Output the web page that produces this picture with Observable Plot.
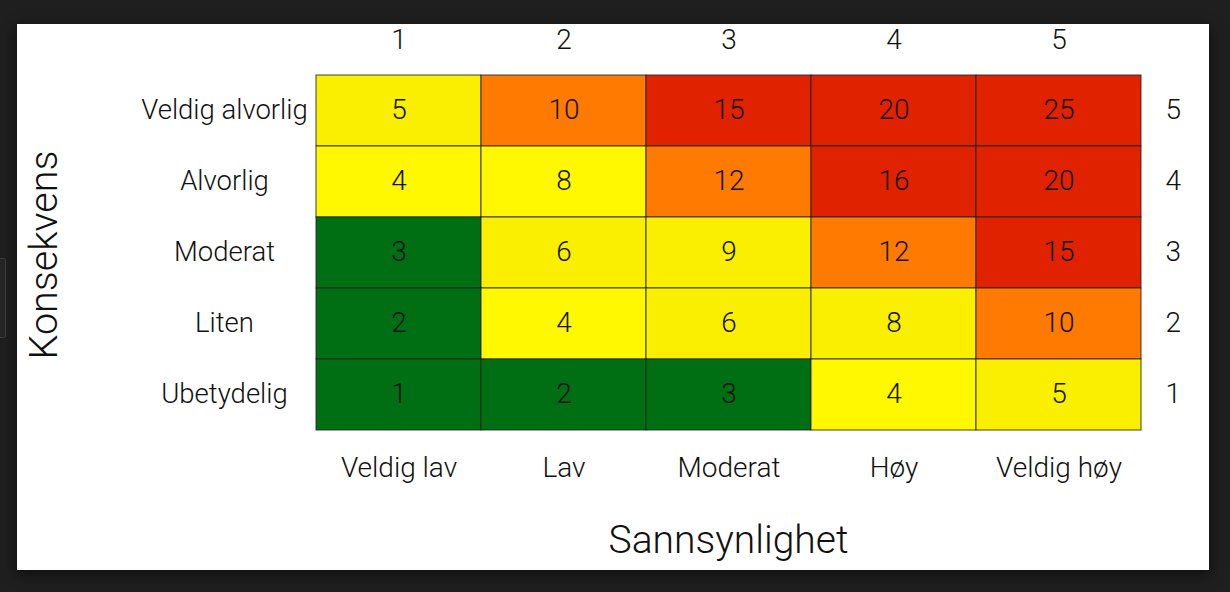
<!DOCTYPE html>
<html>
<head>
<meta charset="utf-8">
<script src="https://cdn.jsdelivr.net/npm/d3@7"></script>
<script src="https://cdn.jsdelivr.net/npm/@observablehq/plot@0.6"></script>
<style>
  html, body { margin: 0; padding: 0; }
  body { width: 1230px; height: 592px; background: #1f1f1f; position: relative; overflow: hidden; }
  #panel { position: absolute; left: 17px; top: 24px; width: 1192px; height: 546px; background: #fff; box-shadow: 0 4px 14px rgba(0,0,0,0.6); }
  #tab { position: absolute; left: -2px; top: 258px; width: 6px; height: 78px; background: #262626; border: 1px solid #3d3d3d; border-radius: 2px; }
  #panel svg { display: block; }
</style>
</head>
<body>
<div id="tab"></div>
<div id="panel"></div>
<script>
// Sannsynlighet (x), left to right
const likelihood = ["Veldig lav", "Lav", "Moderat", "Høy", "Veldig høy"];
const likelihoodScore = [1, 2, 3, 4, 5];
// Konsekvens (y), top to bottom
const consequence = ["Veldig alvorlig", "Alvorlig", "Moderat", "Liten", "Ubetydelig"];
const consequenceScore = [5, 4, 3, 2, 1];
// Risk values, rows follow `consequence`, columns follow `likelihood`
const riskValues = [
  [5, 10, 15, 20, 25],
  [4, 8, 12, 16, 20],
  [3, 6, 9, 12, 15],
  [2, 4, 6, 8, 10],
  [1, 2, 3, 4, 5]
];
// Risk category of each cell
const riskLevels = [
  ["gul", "oransje", "rød", "rød", "rød"],
  ["lysgul", "lysgul", "oransje", "rød", "rød"],
  ["grønn", "gul", "gul", "oransje", "rød"],
  ["grønn", "lysgul", "gul", "gul", "oransje"],
  ["grønn", "grønn", "grønn", "lysgul", "gul"]
];
const levelNames = ["grønn", "lysgul", "gul", "oransje", "rød"];
const levelColors = ["#006f14", "#fff800", "#fbef00", "#fe7a00", "#e12200"];

const cells = [];
consequence.forEach((c, i) => likelihood.forEach((l, j) => {
  cells.push({likelihood: l, consequence: c, value: riskValues[i][j], level: riskLevels[i][j]});
}));

const font = "Roboto, 'Liberation Sans', Arial, sans-serif";

const chart = Plot.plot({
  width: 1192,
  height: 546,
  marginLeft: 298,
  marginRight: 68,
  marginTop: 50,
  marginBottom: 139,
  style: {fontFamily: font, fontSize: "28px", fontWeight: 300, color: "#111", background: "#fff"},
  x: {type: "band", domain: likelihood, padding: 0, axis: null},
  y: {type: "band", domain: consequence, padding: 0, axis: null},
  color: {type: "ordinal", domain: levelNames, range: levelColors},
  marks: [
    Plot.cell(cells, {x: "likelihood", y: "consequence", fill: "level", stroke: "#222", strokeWidth: 1, strokeOpacity: 0.85}),
    Plot.text(cells, {x: "likelihood", y: "consequence", text: "value", fontSize: 28, fontWeight: 300, fill: "#111", dy: -1}),
    Plot.axisX({anchor: "bottom", tickSize: 0, tickPadding: 26, label: null, fontSize: 28, fontWeight: 300}),
    Plot.axisX({anchor: "top", tickSize: 0, tickPadding: 26, label: null, fontSize: 28, fontWeight: 300,
      tickFormat: d => likelihoodScore[likelihood.indexOf(d)]}),
    Plot.axisY({anchor: "left", tickSize: 0, tickPadding: 91, textAnchor: "middle", label: null, fontSize: 27.5, fontWeight: 300, dy: -1}),
    Plot.axisY({anchor: "right", tickSize: 0, tickPadding: 24, label: null, fontSize: 28, fontWeight: 300, dy: -1,
      tickFormat: d => consequenceScore[consequence.indexOf(d)]}),
    Plot.text(["Sannsynlighet"], {frameAnchor: "bottom", dy: 121, fontSize: 39, fontWeight: 300, fill: "#111"}),
    Plot.text(["Konsekvens"], {frameAnchor: "left", textAnchor: "middle", rotate: -90, dx: -271, dy: 2, fontSize: 39.5, fontWeight: 300, fill: "#111"})
  ]
});
document.getElementById("panel").appendChild(chart);
</script>
</body>
</html>
